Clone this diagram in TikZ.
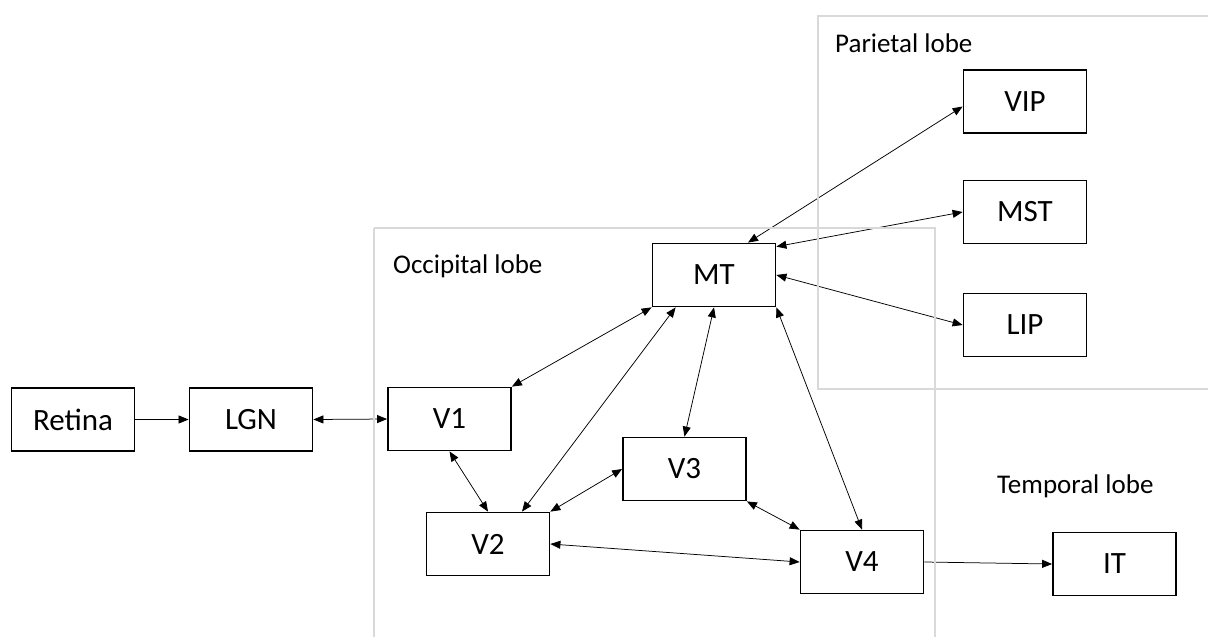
\documentclass[tikz,border=0pt]{standalone}
\usepackage{fontspec}
\setmainfont{Carlito}
\usetikzlibrary{arrows.meta,calc}
\definecolor{lobegray}{HTML}{D9D9D9}
\tikzset{
  area/.style={draw, line width=1.8pt, minimum width=123pt, minimum height=63pt, inner sep=0pt, font=\fontsize{31}{37}\selectfont},
  lobelabel/.style={anchor=west, inner sep=0pt, font=\fontsize{27}{32}\selectfont},
  lobeframe/.style={draw=lobegray, line width=1.8pt},
  link/.style={line width=0.75pt, {Triangle[length=10pt,width=8pt]}-{Triangle[length=10pt,width=8pt]}},
  feed/.style={line width=0.75pt, -{Triangle[length=10pt,width=8pt]}}
}
\begin{document}
\begin{tikzpicture}[x=1pt,y=-1pt]
\useasboundingbox (0,0) rectangle (1208,637);
\node[area] (Retina) at (73,419.5) {Retina};
\node[area] (LGN) at (251,419.5) {LGN};
\node[area] (V1) at (449.5,419) {V1};
\node[area] (V2) at (488,544) {V2};
\node[area] (V3) at (684.5,469) {V3};
\node[area] (V4) at (862,562) {V4};
\node[area] (MT) at (714,275) {MT};
\node[area] (VIP) at (1025,101.5) {VIP};
\node[area] (MST) at (1025,212) {MST};
\node[area] (LIP) at (1025,325) {LIP};
\node[area] (IT) at (1114.5,564) {IT};
\node[lobelabel] (occ) at (393,266) {Occipital lobe};
\node[lobelabel] (par) at (835,43) {Parietal lobe};
\node[lobelabel] (tem) at (997,486) {Temporal lobe};
\draw[feed] (Retina.east) -- (LGN.west);
\draw[link] (LGN.east) -- (V1.west);
\draw[link] (V1.north east) -- (MT.south west);
\draw[link] ($(V2.north)+(34,0)$) -- ($(MT.south west)+(24,0)$);
\draw[link] (MT.south) -- (V3.north);
\draw[link] (MT.south east) -- (V4.north);
\draw[link] (V1.south) -- (V2.north);
\draw[link] (V2.north east) -- (V3.west);
\draw[link] (V3.south east) -- (V4.north west);
\draw[link] (V2.east) -- (V4.west);
\draw[feed] (V4.east) -- (IT.west);
\draw[link] ($(MT.north)+(34,0)$) -- ($(VIP.west)+(0,5)$);
\draw[link] ($(MT.north east)+(0,4)$) -- (MST.west);
\draw[link] (MT.east) -- (LIP.west);
\draw[lobeframe] (374,228) -- (374,645);
\draw[lobeframe] (374,228) -- (935,228) -- (935,645);
\draw[lobeframe] (1215,16) -- (818,16) -- (818,389) -- (1215,389);
\end{tikzpicture}
\end{document}
